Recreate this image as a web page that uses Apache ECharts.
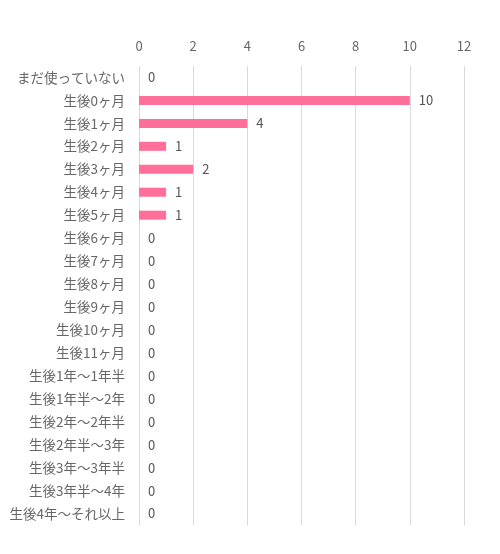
<!DOCTYPE html>
<html><head><meta charset="utf-8">
<script src="https://cdn.jsdelivr.net/npm/echarts@6/dist/echarts.min.js"></script>
<style>html,body{margin:0;padding:0;background:#fff}#c{width:500px;height:554px}</style>
</head><body><div id="c"></div>
<script>
var categories = ['まだ使っていない','生後0ヶ月','生後1ヶ月','生後2ヶ月','生後3ヶ月','生後4ヶ月','生後5ヶ月','生後6ヶ月','生後7ヶ月','生後8ヶ月','生後9ヶ月','生後10ヶ月','生後11ヶ月','生後1年〜1年半','生後1年半〜2年','生後2年〜2年半','生後2年半〜3年','生後3年〜3年半','生後3年半〜4年','生後4年〜それ以上'];
var values = [0,10,4,1,2,1,1,0,0,0,0,0,0,0,0,0,0,0,0,0];
var xTicks = [0,2,4,6,8,10,12];
var font = '"Noto Sans CJK JP", sans-serif';
var chart = echarts.init(document.getElementById('c'));
chart.setOption({
  animation:false,
  grid:{left:139,right:36,top:66,bottom:29,containLabel:false},
  xAxis:{type:'value',position:'top',min:xTicks[0],max:xTicks[xTicks.length-1],interval:2,
    axisLine:{show:false},axisTick:{show:false},
    axisLabel:{color:'#666666',fontSize:13,fontFamily:font,margin:13},
    splitLine:{lineStyle:{color:'#d9d9d9',width:1}}},
  yAxis:{type:'category',data:categories,inverse:true,
    axisLine:{show:false},axisTick:{show:false},
    axisLabel:{color:'#666666',fontSize:13.5,fontFamily:font,margin:14}},
  series:[{type:'bar',data:values,barWidth:9,itemStyle:{color:'#ff6f99'},
    label:{show:true,position:'right',distance:9,color:'#555555',fontSize:13,fontFamily:font}}]
});
</script></body></html>
